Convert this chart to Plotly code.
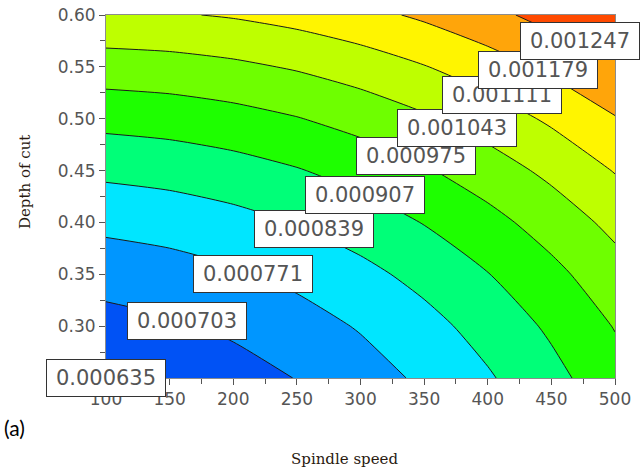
import plotly.graph_objects as go

# Spindle speed grid (x) and depth of cut grid (y)
spindle_speed = [100, 150, 200, 250, 300, 350, 400, 450, 500]
depth_of_cut = [0.25, 0.30, 0.35, 0.40, 0.45, 0.50, 0.55, 0.60]

# Response values (rows = depth of cut, cols = spindle speed)
z_row_025 = [0.0006370, 0.0006531, 0.0006758, 0.0007049, 0.0007407, 0.0007829, 0.0008317, 0.0008870, 0.0009488]
z_row_030 = [0.0006793, 0.0006938, 0.0007149, 0.0007424, 0.0007765, 0.0008172, 0.0008643, 0.0009180, 0.0009783]
z_row_035 = [0.0007296, 0.0007425, 0.0007619, 0.0007879, 0.0008204, 0.0008594, 0.0009050, 0.0009571, 0.0010157]
z_row_040 = [0.0007878, 0.0007991, 0.0008170, 0.0008413, 0.0008722, 0.0009096, 0.0009536, 0.0010041, 0.0010611]
z_row_045 = [0.0008540, 0.0008637, 0.0008800, 0.0009027, 0.0009320, 0.0009678, 0.0010101, 0.0010590, 0.0011144]
z_row_050 = [0.0009282, 0.0009363, 0.0009509, 0.0009720, 0.0009997, 0.0010339, 0.0010747, 0.0011219, 0.0011757]
z_row_055 = [0.0010103, 0.0010168, 0.0010298, 0.0010493, 0.0010754, 0.0011080, 0.0011471, 0.0011928, 0.0012300]
z_row_060 = [0.0011004, 0.0011053, 0.0011167, 0.0011346, 0.0011591, 0.0011900, 0.0012276, 0.0012716, 0.0013222]

# Contour levels shown in the labels
contour_levels = ["0.000635", "0.000703", "0.000771", "0.000839", "0.000907",
                  "0.000975", "0.001043", "0.001111", "0.001179", "0.001247"]
# Label anchor positions (data coordinates)
label_x = [100, 163.7, 215.5, 263.5, 303.5, 343.6, 375.8, 411.2, 439.1, 472.5]
label_y = [0.25, 0.305, 0.3507, 0.394, 0.4264, 0.4636, 0.491, 0.5224, 0.5474, 0.5754]

x_ticks = [100, 150, 200, 250, 300, 350, 400, 450, 500]
y_ticks = [0.25, 0.30, 0.35, 0.40, 0.45, 0.50, 0.55, 0.60]
y_tick_text = ["", "0.30", "0.35", "0.40", "0.45", "0.50", "0.55", "0.60"]

band_colors = ["#0030E0", "#0052F5", "#0096FF", "#00E6FF", "#00FF78", "#1EFF00",
               "#6EFF00", "#BEFF00", "#FFF500", "#FFA50A", "#FF4A00"]

z = [z_row_025, z_row_030, z_row_035, z_row_040, z_row_045,
     z_row_050, z_row_055, z_row_060]

n = len(band_colors)
colorscale = [[i / (n - 1), c] for i, c in enumerate(band_colors)]

fig = go.Figure()
fig.add_trace(go.Contour(
    x=spindle_speed, y=depth_of_cut, z=z,
    autocontour=False,
    contours=dict(start=float(contour_levels[0]), end=float(contour_levels[-1]),
                  size=0.000068, coloring="fill", showlines=True),
    colorscale=colorscale,
    showscale=False,
    line=dict(color="#1a1a1a", width=1, smoothing=0.6),
    hoverinfo="skip",
))

annotations = []
for txt, lx, ly in zip(contour_levels, label_x, label_y):
    annotations.append(dict(
        x=lx, y=ly, xref="x", yref="y", text=txt, showarrow=False,
        font=dict(family="DejaVu Sans", size=21, color="#555555"),
        bgcolor="white", bordercolor="#333333", borderwidth=1, borderpad=2,
        width=114, height=32, xanchor="center", yanchor="middle",
    ))

annotations.append(dict(x=-0.159, y=0.540, xref="paper", yref="paper",
                        text="Depth of cut", textangle=-90, showarrow=False,
                        font=dict(family="DejaVu Serif", size=15, color="#2a1a10"),
                        xanchor="center", yanchor="middle"))
annotations.append(dict(x=0.4695, y=-0.223, xref="paper", yref="paper",
                        text="Spindle speed", showarrow=False,
                        font=dict(family="DejaVu Serif", size=15, color="#2a1a10"),
                        xanchor="center", yanchor="middle"))
annotations.append(dict(x=-0.2043, y=-0.135, xref="paper", yref="paper",
                        text="(a)", showarrow=False,
                        font=dict(family="Lato", size=21, color="#000000"),
                        xanchor="left", yanchor="middle"))

axis_common = dict(showline=True, linecolor="#8c8c8c", linewidth=1, mirror=True,
                   ticks="outside", ticklen=6, tickcolor="#555555", showgrid=False,
                   zeroline=False, automargin=False,
                   tickfont=dict(family="DejaVu Sans", size=17, color="#555555"))

fig.update_layout(
    width=644, height=470,
    margin=dict(l=106, r=29, t=15, b=92),
    paper_bgcolor="white", plot_bgcolor="white",
    showlegend=False,
    annotations=annotations,
    xaxis=dict(range=[100, 500], tickvals=x_ticks, ticktext=[str(v) for v in x_ticks],
               minor=dict(dtick=25, tick0=100, ticks="outside", ticklen=5, tickcolor="#555555"),
               **axis_common),
    yaxis=dict(range=[0.25, 0.60], tickvals=y_ticks, ticktext=y_tick_text,
               minor=dict(dtick=0.025, tick0=0.25, ticks="outside", ticklen=5, tickcolor="#555555"),
               **axis_common),
)

fig.write_html("out.html",
               config={"displayModeBar": False},
               post_script="document.body.style.margin='0';document.body.style.overflow='hidden';")
